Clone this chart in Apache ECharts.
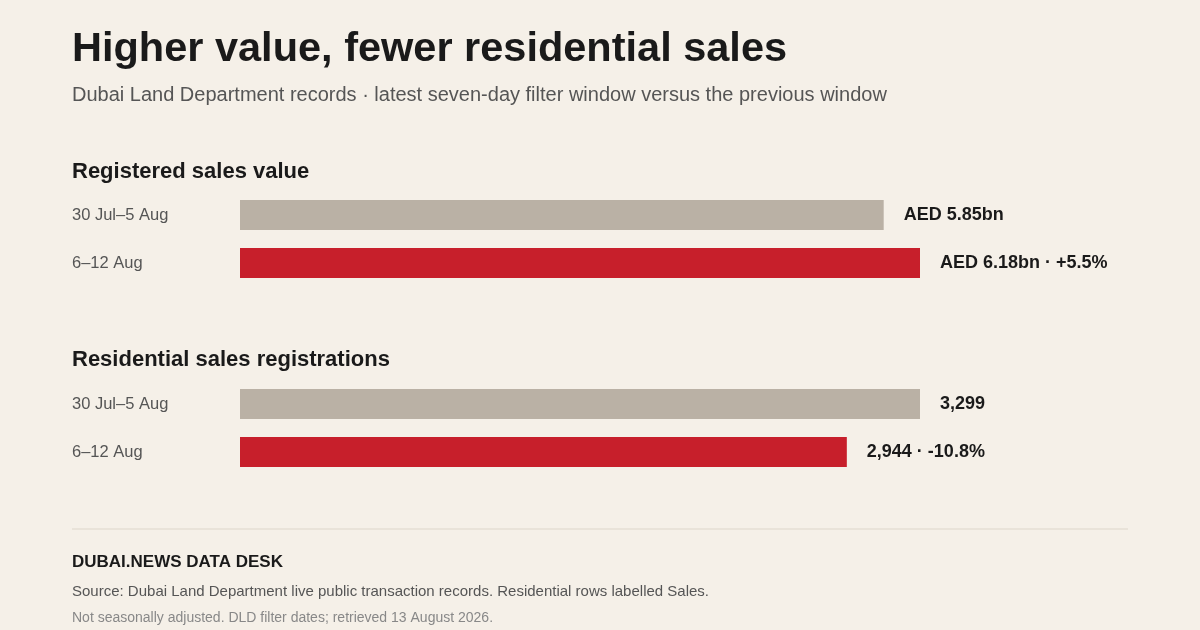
<!DOCTYPE html>
<html>
<head>
<meta charset="utf-8">
<script src="https://cdn.jsdelivr.net/npm/echarts@6/dist/echarts.min.js"></script>
<style>
  html, body { margin: 0; padding: 0; background: #f5f0e8; }
  #chart { width: 1200px; height: 630px; }
</style>
</head>
<body>
<div id="chart"></div>
<script>
// periods compared
const periods = ['30 Jul\u20135 Aug', '6\u201312 Aug'];
// registered sales value, AED bn
const salesValue = [5.85, 6.18];
const valueLabels = ['AED 5.85bn', 'AED 6.18bn \u00b7 +5.5%'];
// residential sales registrations
const registrations = [3299, 2944];
const regLabels = ['3,299', '2,944 \u00b7 -10.8%'];

const barColors = ['#bab1a5', '#c71f2b'];
const font = 'Liberation Sans, Arial, sans-serif';

function yAxisFor(idx) {
  return {
    type: 'category', gridIndex: idx, data: periods, inverse: true,
    axisLine: { show: false }, axisTick: { show: false },
    axisLabel: { align: 'left', margin: 168, color: '#555', fontSize: 16.5, fontFamily: font }
  };
}
function xAxisFor(idx, max) {
  return { type: 'value', gridIndex: idx, min: 0, max: max, show: false };
}
function barSeries(idx, values, labels) {
  return {
    type: 'bar', xAxisIndex: idx, yAxisIndex: idx, barWidth: 30,
    data: values.map((v, i) => ({ value: v, itemStyle: { color: barColors[i] } })),
    label: {
      show: true, position: 'right', distance: 20,
      formatter: p => labels[p.dataIndex],
      color: '#1a1a1a', fontSize: 18, fontWeight: 'bold', fontFamily: font
    },
    silent: true
  };
}

function txt(text, top, size, weight, color) {
  return { text: text, left: 72, top: top, padding: 0,
    textStyle: { fontSize: size, fontWeight: weight, color: color, fontFamily: font } };
}

const chart = echarts.init(document.getElementById('chart'));
chart.setOption({
  backgroundColor: '#f5f0e8',
  animation: false,
  title: [
    txt('Higher value, fewer residential sales', 29, 41.5, 'bold', '#1a1a1a'),
    txt('Dubai Land Department records \u00b7 latest seven-day filter window versus the previous window', 85, 20, 'normal', '#555'),
    txt('Registered sales value', 161, 22, 'bold', '#1a1a1a'),
    txt('Residential sales registrations', 349, 22, 'bold', '#1a1a1a'),
    txt('DUBAI.NEWS DATA DESK', 554, 17, 'bold', '#1a1a1a'),
    txt('Source: Dubai Land Department live public transaction records. Residential rows labelled Sales.', 584, 15, 'normal', '#555'),
    txt('Not seasonally adjusted. DLD filter dates; retrieved 13 August 2026.', 611, 14, 'normal', '#888')
  ],
  graphic: [
    { type: 'line', shape: { x1: 72, y1: 529, x2: 1128, y2: 529 },
      style: { stroke: '#ddd6ca', lineWidth: 1 } }
  ],
  grid: [
    { left: 240, width: 680, top: 191, height: 96 },
    { left: 240, width: 680, top: 380, height: 96 }
  ],
  xAxis: [xAxisFor(0, 6.18), xAxisFor(1, 3299)],
  yAxis: [yAxisFor(0), yAxisFor(1)],
  series: [barSeries(0, salesValue, valueLabels), barSeries(1, registrations, regLabels)]
});
</script>
</body>
</html>
